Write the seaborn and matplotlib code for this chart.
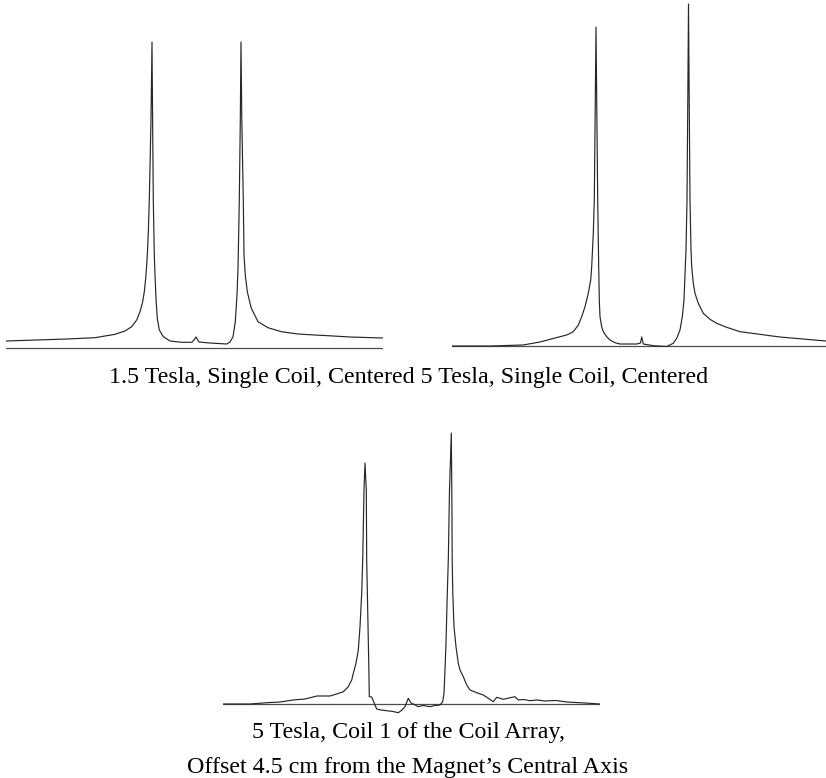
import numpy as np
import pandas as pd
import matplotlib
matplotlib.use("Agg")
import matplotlib.pyplot as plt
import seaborn as sns

# ---------------- data (arbitrary units) ----------------
# Each list holds (frequency offset, signal) samples.
# Panel 1: 1.5 Tesla, single coil, centered
p1_points = [
    (0, 7), (30, 8), (61, 9), (89, 10.3), (99, 12), (109, 13.7), (119, 17),
    (125.7, 21.3), (130.7, 28), (134, 36.3), (136.7, 46.3), (138.3, 56.3),
    (139.7, 69.7), (140.7, 83), (141.3, 93), (142.3, 115), (143.3, 148),
    (145, 228), (146, 306), (146.6, 228), (147.3, 148), (148.3, 93), (149, 73),
    (150, 49.7), (151.3, 29.7), (153.3, 18), (157.3, 11.3), (164, 7),
    (175.7, 5.7), (185.7, 5.7), (188, 8), (190, 11), (193, 6), (204, 5),
    (220.7, 4), (224, 6), (227, 11.3), (229.3, 26.3), (231, 53), (232, 80),
    (232.7, 115), (233.3, 148), (234.3, 228), (235, 306), (235.8, 228),
    (237.3, 148), (238, 93), (239.3, 73), (241.3, 56.3), (245.3, 39.7),
    (252, 26.3), (262, 20.3), (275.3, 16.3), (292, 14), (308.7, 13),
    (322, 12.3), (344, 11), (377, 10),
]

# Panel 2: 5 Tesla, single coil, centered
p2_points = [
    (0, 0), (38, 0), (71, 1), (88, 4), (108, 9.3), (114.7, 11), (121.3, 14.3),
    (126.3, 21), (129.7, 29.3), (133, 39.3), (136.3, 52.7), (138.7, 66),
    (139.7, 79.3), (141.3, 112.7), (142.3, 146), (143.2, 236), (144, 319),
    (144.8, 236), (145.7, 146), (146.7, 79.3), (147.3, 46), (148, 29.3),
    (149.7, 19.3), (151.3, 14.3), (154.7, 9.3), (158, 6), (163, 3.3), (168, 2),
    (184.7, 2), (188.5, 3), (189.7, 9), (191.3, 2), (201.3, 0.3), (214.7, -0.5),
    (221.3, 2.7), (224.7, 7.7), (228, 16), (230.3, 29.3), (232, 46),
    (233.3, 79.3), (234, 96), (235, 146), (235.8, 246), (236.5, 342),
    (237.2, 246), (238, 146), (239, 96), (239.7, 79.3), (241.3, 62.7),
    (243, 52.7), (246.3, 42.7), (251.3, 32.7), (258, 26.7), (264.7, 22.7),
    (274.7, 18.7), (288, 14.3), (328, 9), (374, 5),
]

# Panel 3: 5 Tesla, coil 1 of the coil array, offset 4.5 cm
p3_points = [
    (0, 0), (27, 0), (44, 1.3), (57, 2), (70, 4), (82, 5), (94, 8), (107, 8),
    (113.7, 10), (120.3, 12.3), (125.3, 17.3), (128.7, 24), (130.3, 30.7),
    (133, 40.7), (135.3, 54), (137, 77.3), (138.7, 110.7), (139.7, 144),
    (141, 214), (142, 241), (143.3, 214), (143.7, 144), (144.7, 94),
    (145.7, 44), (146.3, 7.3), (148.7, 7), (153.7, -5), (158, -6),
    (163.7, -6.7), (170, -7.5), (175.3, -8.7), (179, -6), (182, -2.7),
    (185.3, 5.7), (188, 1), (190.3, 0), (195.3, -2.7), (200, -1.5),
    (207, -2.7), (212, -1.5), (217, -1), (219.7, 2.3), (221, 10.7), (222, 34),
    (223, 60.7), (224.3, 110.7), (225.3, 144), (226.5, 214), (228.3, 271),
    (228.9, 200), (229.2, 144), (229.8, 110.7), (231, 77.3), (233, 57.3),
    (235.3, 40.7), (237, 34), (240.3, 27.3), (243.7, 19), (247, 14),
    (253.7, 11.3), (260.3, 9), (265.3, 5.7), (270.3, 2.3), (273.7, 6.7),
    (280.3, 4.7), (286, 6), (292, 7.3), (295.3, 4), (301, 4.5), (307, 3.3),
    (314, 4), (322, 3), (333, 3.5), (344, 2), (353, 1.5), (362, 1), (377, 0),
]

caption_top = "1.5 Tesla, Single Coil, Centered 5 Tesla, Single Coil, Centered"
caption_bottom_1 = "5 Tesla, Coil 1 of the Coil Array,"
caption_bottom_2 = "Offset 4.5 cm from the Magnet\u2019s Central Axis"

# ---------------- figure ----------------
sns.set_theme(style="white")
plt.rcParams["font.family"] = ["Liberation Serif", "DejaVu Serif"]

W_PX, H_PX = 826, 778
fig = plt.figure(figsize=(W_PX / 100, H_PX / 100), dpi=100)
fig.patch.set_facecolor("white")

LINE_COLOR = "#262626"
BASE_COLOR = "#4d4d4d"


def panel(points, left, width, base, below, above):
    ax = fig.add_axes([left / W_PX, 1 - (base + below) / H_PX,
                       width / W_PX, (below + above) / H_PX])
    df = pd.DataFrame(points, columns=["freq", "signal"])
    ax.axhline(0, color=BASE_COLOR, lw=0.9, zorder=1)
    sns.lineplot(data=df, x="freq", y="signal", ax=ax, estimator=None,
                 sort=False, color=LINE_COLOR, lw=0.85, zorder=2)
    ax.set_xlim(0, width)
    ax.set_ylim(-below, above)
    ax.set_axis_off()
    return ax


panel(p1_points, left=6, width=377, base=348, below=20, above=340)
panel(p2_points, left=452, width=374, base=346, below=15, above=346)
panel(p3_points, left=223, width=377, base=704, below=15, above=300)

FS = 17.3
fig.text(409 / W_PX, 1 - 383 / H_PX, caption_top, ha="center", va="baseline",
         fontsize=FS, color="black")
fig.text(408 / W_PX, 1 - 738 / H_PX, caption_bottom_1, ha="center",
         va="baseline", fontsize=FS, color="black")
fig.text(408 / W_PX, 1 - 773 / H_PX, caption_bottom_2, ha="center",
         va="baseline", fontsize=FS, color="black")

fig.savefig("out.png", dpi=100, facecolor="white")
